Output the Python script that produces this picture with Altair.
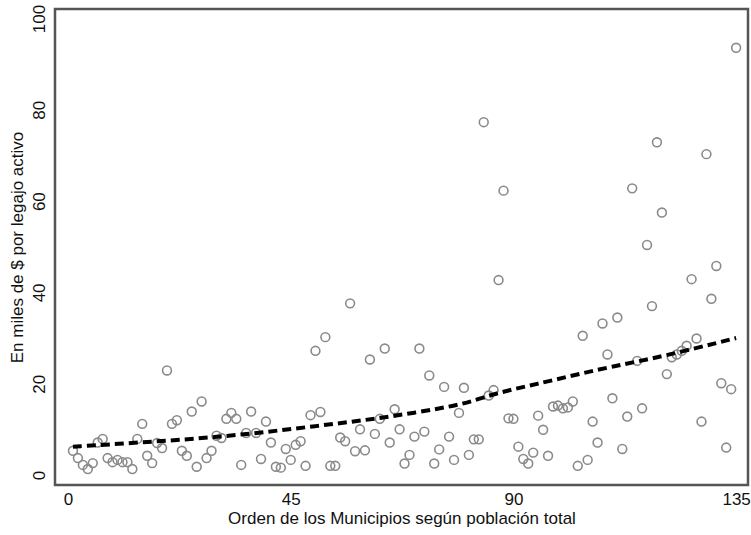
import altair as alt
import pandas as pd

# Observed values: order of municipality (1..135) and value (thousands of $ per active employee)
orden = list(range(1, 136))
valor = [
    5.3, 3.7, 2.2, 1.3, 2.6, 7.1, 7.9, 3.7, 2.8, 3.3,
    2.8, 2.8, 1.3, 7.9, 11.2, 4.2, 2.6, 7.0, 5.9, 22.9,
    11.2, 12.0, 5.3, 4.2, 13.9, 1.8, 16.1, 3.7, 5.3, 8.6,
    8.1, 12.3, 13.6, 12.3, 2.2, 9.2, 13.9, 9.2, 3.5, 11.7,
    7.1, 1.8, 1.6, 5.7, 3.3, 6.6, 7.4, 2.0, 13.1, 27.2,
    13.8, 30.2, 2.0, 2.0, 8.2, 7.4, 37.6, 5.2, 10.0, 5.4,
    25.3, 9.0, 12.3, 27.7, 7.1, 14.4, 10.0, 2.5, 4.4, 8.4,
    27.7, 9.5, 21.8, 2.5, 5.6, 19.3, 8.4, 3.3, 13.6, 19.1,
    4.4, 7.8, 7.8, 77.3, 17.4, 18.6, 42.7, 62.3, 12.4, 12.3,
    6.2, 3.5, 2.5, 4.9, 13.0, 9.9, 4.2, 15.0, 15.2, 14.6,
    14.8, 16.1, 2.0, 30.5, 3.3, 11.7, 7.1, 33.2, 26.4, 16.8,
    34.5, 5.7, 12.8, 62.8, 25.0, 14.6, 50.4, 37.0, 72.9, 57.5,
    22.1, 25.8, 26.4, 27.2, 28.3, 42.9, 29.9, 11.7, 70.3, 38.6,
    45.8, 20.1, 6.0, 18.8, 93.6,
]

# Smoothed (dashed) curve
suave_x = [1, 10, 20, 30, 40, 50, 60, 70, 80, 85, 90, 95, 100, 110, 120, 135]
suave_y = [6.2, 6.8, 7.5, 8.3, 9.4, 10.7, 12.0, 13.6, 15.5, 17.4, 18.8, 20.0, 21.3, 23.8, 25.9, 30.0]

x_ticks = [0, 45, 90, 135]
y_ticks = [0, 20, 40, 60, 80, 100]

df = pd.DataFrame({"orden": orden, "valor": valor})
dfs = pd.DataFrame({"orden": suave_x, "valor": suave_y})

FONT = "Liberation Sans"

xscale = alt.Scale(domain=[-2.63, 137.4], nice=False, zero=False)
yscale = alt.Scale(domain=[-2.2, 102.1], nice=False, zero=False)

xaxis = alt.Axis(
    values=x_ticks, title="Orden de los Municipios según población total",
    grid=False, domain=False, ticks=False, labelPadding=6,
    labelFontSize=17, titleFontSize=17, labelFont=FONT, titleFont=FONT,
    labelColor="#111", titleColor="#111", titleFontWeight="normal", titlePadding=3,
)
yaxis = alt.Axis(
    values=y_ticks, title="En miles de $ por legajo activo",
    grid=False, domain=False, ticks=False, labelPadding=7,
    labelAngle=270, labelAlign="center", labelBaseline="bottom",
    labelFontSize=17, titleFontSize=17, labelFont=FONT, titleFont=FONT,
    labelColor="#111", titleColor="#111", titleFontWeight="normal", titlePadding=4,
)

pts = alt.Chart(df).mark_point(
    shape="circle", filled=False, size=78, strokeWidth=1.6, color="#8a8a8a", opacity=1
).encode(
    x=alt.X("orden:Q", scale=xscale, axis=xaxis),
    y=alt.Y("valor:Q", scale=yscale, axis=yaxis),
)

line = alt.Chart(dfs).mark_line(
    color="#000000", strokeWidth=4, strokeDash=[9, 5], interpolate="basis"
).encode(
    x=alt.X("orden:Q", scale=xscale),
    y=alt.Y("valor:Q", scale=yscale),
)

chart = (pts + line).properties(
    width=693, height=476,
    autosize=alt.AutoSizeParams(type="none"),
    padding={"left": 55, "top": 9, "right": 3, "bottom": 50},
    background="white",
).configure_view(
    stroke="#555555", strokeWidth=2.5
)

chart.save("out.html", embed_options={"renderer": "svg", "actions": False})
